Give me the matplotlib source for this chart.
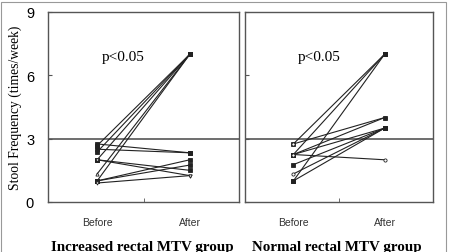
"""Stool frequency before/after, two MTV groups, paired lines."""
import matplotlib
matplotlib.use('Agg')
import matplotlib.pyplot as plt
from matplotlib.patches import Rectangle

CATS = ['Before', 'After']
GROUPS = ['Increased rectal MTV group', 'Normal rectal MTV group']

# paired (before, after) stool frequencies
INC_BEFORE = [2.67, 2.37, 2.0, 1.33, 1.0, 2.75, 2.5, 2.0, 2.0, 1.0, 1.0, 0.9]
INC_AFTER = [7.0, 7.0, 7.0, 7.0, 7.0, 2.33, 2.33, 1.5, 1.25, 2.0, 1.75, 1.25]
NOR_BEFORE = [2.75, 2.25, 1.0, 2.75, 2.25, 2.25, 1.77, 1.33, 1.0, 2.25]
NOR_AFTER = [7.0, 7.0, 7.0, 4.0, 4.0, 3.5, 3.5, 3.5, 3.5, 2.0]
INC_MARK = ['s', 's', 's', '^', 's', 's', 's', 's', 'v', 's', 's', 'v']
NOR_MARK = ['s', 's', 's', 'o', 's', 's', 's', 'o', 's', 'o']
P_TEXT = 'p<0.05'
THRESH = 3

SERIF = ['Liberation Serif', 'DejaVu Serif']
SANS = ['Liberation Sans', 'DejaVu Sans']


def panel(ax, before, after, marks):
    for b, a, m in zip(before, after, marks):
        ax.plot([1, 2], [b, a], color='#222222', lw=0.8, zorder=3)
        fill = '#222222' if m == 's' else 'white'
        ax.plot([1, 2], [b, a], ls='none', marker=m, ms=2.3, mew=0.6,
                mec='#222222', mfc=fill, zorder=4)
    ax.axhline(THRESH, color='#555555', lw=1.2, zorder=2)
    ax.set_xlim(0.47, 2.53)
    ax.set_ylim(0, 9)
    ax.set_xticks([1, 2])
    ax.set_xticklabels(CATS, family=SANS, fontsize=7.5, color='#333333')
    ax.set_xticks([1.5], minor=True)
    ax.tick_params(axis='x', which='major', length=0, pad=11)
    ax.tick_params(axis='x', which='minor', length=3, direction='in',
                   color='#555555')
    ax.set_yticks([0, 3, 6, 9])
    ax.tick_params(axis='y', length=3, direction='in', color='#555555')
    for s in ax.spines.values():
        s.set_color('#555555')
        s.set_linewidth(1.0)
    ax.text(1.28, 6.9, P_TEXT, family=SERIF, fontsize=11, ha='center',
            va='center')


fig = plt.figure(figsize=(4.5, 2.53), dpi=100)
ax1 = fig.add_axes([48 / 450, 1 - 203 / 253, 191 / 450, 190 / 253])
ax2 = fig.add_axes([245 / 450, 1 - 203 / 253, 188 / 450, 190 / 253])
panel(ax1, INC_BEFORE, INC_AFTER, INC_MARK)
panel(ax2, NOR_BEFORE, NOR_AFTER, NOR_MARK)

ax1.set_yticklabels(['0', '3', '6', '9'], family=SANS, fontsize=10.5)
ax1.tick_params(axis='y', pad=10)
ax1.set_ylabel('Stool Frequency (times/week)', family=SERIF, fontsize=9.8,
               labelpad=3)
ax2.set_yticklabels([])

fig.text(142 / 450, 1 - 241 / 253, GROUPS[0], family=SERIF, fontsize=10.8,
         fontweight='bold', ha='center', va='top')
fig.text(337 / 450, 1 - 241 / 253, GROUPS[1], family=SERIF, fontsize=10.8,
         fontweight='bold', ha='center', va='top')

fig.patches.append(Rectangle((0.002, -0.05), 0.99, 1.04,
                             transform=fig.transFigure, fill=False,
                             ec='#999999', lw=0.8))

fig.savefig('out.png', dpi=100)
